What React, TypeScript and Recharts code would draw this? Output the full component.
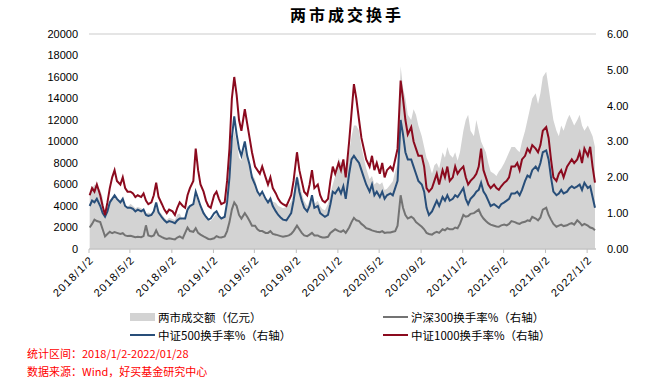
import React from 'react'
import { ComposedChart, Area, Line, XAxis, YAxis, CartesianGrid } from 'recharts'

// four readings a month (around the 4th, 11th, 18th, 25th), 2018/01 .. 2022/01
const sampleDays = [4, 11, 18, 25]

// 两市成交额（亿元）
const volume = [
  5200, 5600, 6000, 5800, 5500, 4800, 3000, 3800, 4600, 4800, 5000, 4800,
  4400, 4500, 4000, 3900, 4200, 4000, 3800, 3900, 3800, 3600, 3300, 3400,
  3300, 3500, 3900, 3600, 3200, 2900, 2700, 2900, 2800, 2700, 3200, 3300,
  2700, 3000, 4000, 3900, 4200, 5000, 4400, 3800, 3400, 3000, 2800, 2600,
  // 2019
  3000, 3300, 3100, 2900, 3100, 4500, 7000, 9500, 11000, 10000, 8500, 8200,
  9500, 8800, 7800, 7000, 6500, 5500, 5000, 5200, 4500, 4300, 5000, 4400,
  4300, 4000, 3900, 3800, 3900, 4100, 4400, 5200, 7000, 6200, 5200, 4500,
  4000, 4500, 5000, 4200, 4500, 4000, 3700, 3600, 4200, 5200, 6000, 6800,
  // 2020
  8500, 8000, 8200, 7000, 9000, 10500, 11500, 11500, 11000, 9500, 8500, 7500,
  6500, 6800, 6000, 6200, 6000, 6200, 5500, 5600, 6000, 6300, 7200, 8000,
  17000, 15000, 14000, 12500, 12000, 13000, 12500, 11500, 10500, 9500, 8500, 8000,
  7000, 7800, 8000, 7500, 9000, 8500, 9500, 8800, 8500, 9000, 8200, 9000,
  // 2021
  11000, 12000, 12500, 11000, 10500, 12000, 11000, 10000, 9500, 9000, 8000, 7200,
  7000, 6800, 7200, 7500, 8000, 8500, 9000, 9500, 9500, 9200, 9000, 10000,
  11000, 12000, 13000, 14000, 14500, 13500, 14500, 16000, 16500, 15000, 13500, 12000,
  11000, 10500, 11500, 11000, 12000, 12500, 12000, 11500, 12000, 12500, 11500, 11000,
  // 2022
  11500, 11000, 10500, 9500,
]

// 沪深300换手率%
const hs300 = [
  0.6, 0.7, 0.82, 0.78, 0.75, 0.55, 0.35, 0.42, 0.48, 0.44, 0.47, 0.45,
  0.42, 0.44, 0.38, 0.36, 0.37, 0.35, 0.33, 0.34, 0.33, 0.36, 0.66, 0.38,
  0.35, 0.38, 0.52, 0.38, 0.33, 0.3, 0.28, 0.3, 0.28, 0.27, 0.32, 0.35,
  0.3, 0.45, 0.6, 0.5, 0.48, 0.58, 0.45, 0.4, 0.35, 0.32, 0.28, 0.27,
  0.3, 0.36, 0.33, 0.32, 0.35, 0.5, 0.75, 1.1, 1.3, 1.2, 0.95, 0.85,
  1.0, 0.9, 0.78, 0.65, 0.65, 0.55, 0.5, 0.5, 0.45, 0.45, 0.5, 0.42,
  0.4, 0.38, 0.36, 0.34, 0.36, 0.38, 0.42, 0.5, 0.65, 0.55, 0.45, 0.38,
  0.36, 0.4, 0.45, 0.38, 0.38, 0.34, 0.32, 0.32, 0.34, 0.45, 0.5, 0.55,
  0.5, 0.48, 0.52, 0.45, 0.6, 0.75, 0.87, 0.8, 0.78, 0.7, 0.65, 0.58,
  0.55, 0.52, 0.5, 0.48, 0.47, 0.5, 0.45, 0.46, 0.46, 0.48, 0.5, 0.65,
  1.5, 1.15, 0.95, 0.85, 0.9, 0.85, 0.75, 0.7, 0.62, 0.55, 0.45, 0.42,
  0.4, 0.45, 0.48, 0.45, 0.55, 0.52, 0.58, 0.55, 0.55, 0.6, 0.58, 0.7,
  0.95, 0.9, 0.92, 0.98, 1.0, 1.05, 1.1, 0.95, 0.85, 0.78, 0.72, 0.68,
  0.65, 0.63, 0.62, 0.66, 0.68, 0.66, 0.7, 0.78, 0.75, 0.72, 0.7, 0.74,
  0.76, 0.8, 0.78, 0.9, 0.85, 0.8, 0.88, 1.1, 1.15, 0.95, 0.82, 0.7,
  0.62, 0.65, 0.68, 0.64, 0.66, 0.7, 0.72, 0.68, 0.8, 0.74, 0.66, 0.7,
  0.65, 0.6, 0.58, 0.52,
]

// 中证500换手率%
const zz500 = [
  1.2, 1.35, 1.3, 1.4, 1.2, 1.0, 0.9, 1.05, 1.3, 1.4, 1.5, 1.4,
  1.3, 1.4, 1.2, 1.15, 1.15, 1.12, 1.05, 1.1, 1.05, 1.1, 0.95, 0.92,
  0.95, 1.05, 1.3, 1.02, 0.88, 0.8, 0.74, 0.78, 0.75, 0.72, 0.8, 0.85,
  0.85, 0.85, 1.1, 1.2, 1.25, 1.6, 1.4, 1.2, 1.0, 0.9, 0.82, 0.85,
  1.0, 1.05, 0.92, 0.85, 0.9, 1.3, 2.0, 3.1, 3.7, 3.2, 2.8, 2.6,
  3.0, 2.6, 2.35, 2.0, 1.8, 1.6, 1.5, 1.6, 1.4, 1.3, 1.4, 1.2,
  1.05, 0.95, 0.88, 0.82, 0.8, 0.9, 1.0, 1.35, 2.0, 1.6, 1.35, 1.15,
  1.05, 1.2, 1.5, 1.15, 1.2, 1.0, 0.95, 0.9, 0.95, 1.25, 1.6, 1.55,
  1.7, 1.55, 1.75, 1.4, 2.1, 2.5, 2.6, 2.5, 2.4, 2.2, 2.0, 1.8,
  1.6, 1.8, 1.5, 1.6, 1.45, 1.6, 1.4, 1.5, 1.55, 1.5, 1.7, 1.9,
  3.6, 3.2, 2.7, 2.5, 2.5, 2.3, 2.1, 1.9, 1.8, 1.6, 1.15, 0.95,
  1.05, 1.2, 1.35, 1.2, 1.45, 1.35, 1.5, 1.35, 1.4, 1.5, 1.45, 1.55,
  1.7, 1.4, 1.25, 1.4, 1.5, 1.6, 1.65, 1.85, 1.6, 1.5, 1.35, 1.2,
  1.25, 1.2, 1.15, 1.25, 1.3, 1.35, 1.4, 1.55, 1.55, 1.6, 1.5, 1.65,
  1.9, 2.05, 2.0, 2.2, 2.3, 2.2, 2.4, 2.7, 2.75, 2.5, 2.0, 1.6,
  1.5, 1.55, 1.65, 1.55, 1.6, 1.7, 1.75, 1.7, 1.75, 1.8, 1.65, 1.85,
  1.7, 1.75, 1.45, 1.15,
]

// 中证1000换手率%
const zz1000 = [
  1.5, 1.7, 1.6, 1.8, 1.5, 1.2, 0.95, 1.3, 1.7, 2.0, 2.2, 1.9,
  1.8, 2.0, 1.7, 1.6, 1.6, 1.55, 1.45, 1.5, 1.45, 1.55, 1.35, 1.25,
  1.3, 1.5, 1.85, 1.45, 1.25, 1.1, 1.0, 1.1, 1.05, 0.95, 1.15, 1.3,
  1.2, 1.15, 1.5, 1.7, 1.9, 2.8, 2.2, 1.8, 1.6, 1.35, 1.2, 1.15,
  1.5, 1.6, 1.4, 1.25, 1.3, 1.9, 2.8, 4.2, 4.8, 4.3, 3.6, 3.3,
  3.9, 3.5, 3.1, 2.7, 2.3, 2.2, 2.1, 2.3, 2.0, 1.8, 2.0, 1.7,
  1.55, 1.4, 1.3, 1.25, 1.2, 1.35, 1.5, 1.9, 2.7, 2.2, 1.9, 1.6,
  1.5, 1.8, 2.2, 1.7, 1.8, 1.5, 1.35, 1.3, 1.4, 1.9, 2.3, 2.1,
  2.4, 2.2, 2.5, 2.0, 3.0, 3.8, 4.6, 4.2, 3.6, 3.1, 2.8, 2.5,
  2.3, 2.6, 2.2, 2.4, 2.1, 2.4, 2.0, 2.2, 2.3, 2.2, 2.5, 2.8,
  4.7, 4.2, 3.6, 3.2, 3.4, 3.0, 2.8, 2.6, 2.6, 2.3, 1.7, 1.6,
  1.7, 1.9, 2.1, 1.8, 2.2, 2.0, 2.3, 1.9, 2.0, 2.3, 2.1, 2.2,
  2.3, 2.0, 1.8, 1.9, 2.0, 2.1, 2.3, 2.8, 2.2, 2.0, 1.8, 1.7,
  1.8, 1.7, 1.65, 1.75, 1.85, 1.9, 2.0, 2.3, 2.3, 2.4, 2.2, 2.5,
  2.6, 2.8, 2.7, 2.9, 2.8, 2.7, 2.9, 3.3, 3.4, 3.1, 2.5, 2.0,
  1.9, 2.1, 2.2, 2.0, 2.3, 2.4, 2.5, 2.4, 2.5, 2.7, 2.4, 2.8,
  2.6, 2.85, 2.3, 1.85,
]

const dateTicks = [
  '2018/1/2', '2018/5/2', '2018/9/2', '2019/1/2', '2019/5/2', '2019/9/2', '2020/1/2',
  '2020/5/2', '2020/9/2', '2021/1/2', '2021/5/2', '2021/9/2', '2022/1/2',
]
const leftTicks = [0, 2000, 4000, 6000, 8000, 10000, 12000, 14000, 16000, 18000, 20000]
const rightTicks = [0, 1, 2, 3, 4, 5, 6]

const toTime = (s: string) => {
  const [y, m, d] = s.split('/').map(Number)
  return Date.UTC(y, m - 1, d)
}
const fmtDate = (t: number) => {
  const d = new Date(t)
  return `${d.getUTCFullYear()}/${d.getUTCMonth() + 1}/${d.getUTCDate()}`
}

const data = volume.map((v, i) => ({
  t: Date.UTC(2018, Math.floor(i / 4), sampleDays[i % 4]),
  vol: v,
  hs300: hs300[i],
  zz500: zz500[i],
  zz1000: zz1000[i],
}))

const font = '"Liberation Sans", Arial, sans-serif'
const cjk = '"Noto Sans CJK SC", sans-serif'
const RED = '#8b0a1e'
const BLUE = '#284e79'
const GREY_LINE = '#737373'
const AREA = '#d3d3d3'

const legendRow: React.CSSProperties = {
  position: 'absolute',
  display: 'flex',
  alignItems: 'center',
  fontFamily: cjk,
  fontSize: 11.5,
  lineHeight: '14px',
  height: 14,
  color: '#000',
  whiteSpace: 'nowrap',
}

const footer: React.CSSProperties = {
  position: 'absolute',
  left: 27,
  fontFamily: cjk,
  fontSize: 11,
  lineHeight: '14px',
  color: '#ff0000',
  whiteSpace: 'nowrap',
}

export default function App() {
  return (
    <div style={{ position: 'absolute', left: 0, top: 0, width: 656, height: 385, background: '#fff' }}>
      <div
        style={{
          position: 'absolute', left: 290, top: 2, fontFamily: cjk, fontWeight: 700,
          fontSize: 16, letterSpacing: 3, color: '#000',
        }}
      >
        两市成交换手
      </div>

      <ComposedChart width={656} height={305} data={data} margin={{ top: 34, right: 0, bottom: 0, left: 0 }}>
        <CartesianGrid vertical={false} stroke="#dcdcdc" strokeWidth={1.5} />
        <XAxis
          dataKey="t"
          type="number"
          scale="time"
          domain={[toTime('2018/1/2'), toTime('2022/1/28')]}
          ticks={dateTicks.map(toTime)}
          tickFormatter={fmtDate}
          angle={-45}
          textAnchor="end"
          height={56}
          interval={0}
          tickSize={4}
          tickMargin={2}
          stroke="#bfbfbf"
          tick={{ fill: '#000', fontSize: 11, fontFamily: font, letterSpacing: 1.2 }}
        />
        <YAxis
          yAxisId="left"
          width={89}
          domain={[0, 20000]}
          ticks={leftTicks}
          interval={0}
          axisLine={false}
          tickLine={false}
          tickMargin={5}
          tick={{ fill: '#000', fontSize: 11, fontFamily: font }}
        />
        <YAxis
          yAxisId="right"
          orientation="right"
          width={60}
          domain={[0, 6]}
          ticks={rightTicks}
          interval={0}
          axisLine={false}
          tickLine={false}
          tickMargin={5}
          tickFormatter={(v: number) => v.toFixed(2)}
          tick={{ fill: '#000', fontSize: 11, fontFamily: font, textAnchor: 'start' }}
        />
        <Area
          yAxisId="left"
          type="linear"
          dataKey="vol"
          fill={AREA}
          fillOpacity={1}
          stroke="none"
          isAnimationActive={false}
        />
        <Line yAxisId="right" type="linear" dataKey="hs300" stroke={GREY_LINE} strokeWidth={2} dot={false} isAnimationActive={false} />
        <Line yAxisId="right" type="linear" dataKey="zz500" stroke={BLUE} strokeWidth={2} dot={false} isAnimationActive={false} />
        <Line yAxisId="right" type="linear" dataKey="zz1000" stroke={RED} strokeWidth={2} dot={false} isAnimationActive={false} />
      </ComposedChart>

      {/* legend */}
      <div style={{ ...legendRow, left: 130, top: 310 }}>
        <span style={{ width: 25, height: 8, background: AREA, marginRight: 3 }} />
        两市成交额（亿元）
      </div>
      <div style={{ ...legendRow, left: 383, top: 310 }}>
        <span style={{ width: 25, height: 2, background: GREY_LINE, marginRight: 3 }} />
        沪深300换手率%（右轴）
      </div>
      <div style={{ ...legendRow, left: 130, top: 328 }}>
        <span style={{ width: 25, height: 2, background: BLUE, marginRight: 3 }} />
        中证500换手率%（右轴）
      </div>
      <div style={{ ...legendRow, left: 383, top: 328 }}>
        <span style={{ width: 25, height: 2, background: RED, marginRight: 3 }} />
        中证1000换手率%（右轴）
      </div>

      <div style={{ ...footer, top: 346 }}>统计区间：2018/1/2-2022/01/28</div>
      <div style={{ ...footer, top: 364 }}>数据来源：Wind，好买基金研究中心</div>
    </div>
  )
}
